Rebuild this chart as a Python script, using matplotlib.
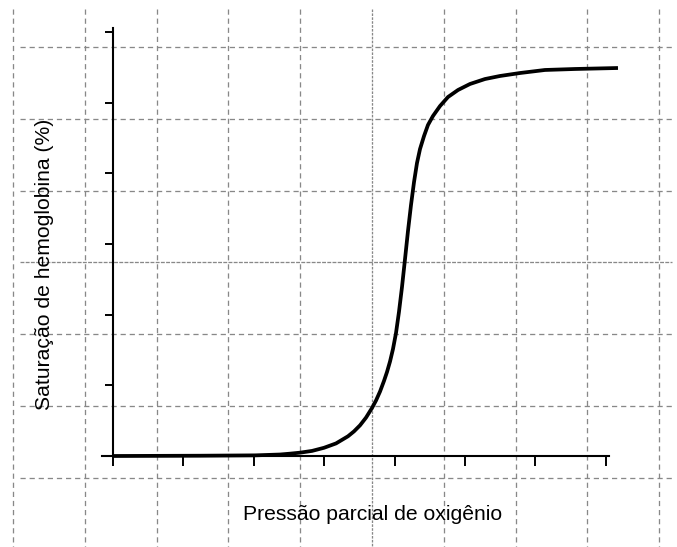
import matplotlib
matplotlib.use("Agg")
import matplotlib.pyplot as plt
import numpy as np

# Curve data (arbitrary units: x ticks 0..7, y ticks 0..6)
pressure = [0.0, 1.236, 2.017, 2.372, 2.514, 2.656, 2.827, 2.997, 3.168, 3.338,
            3.423, 3.509, 3.594, 3.679, 3.736, 3.793, 3.849, 3.892, 3.935, 3.977,
            4.020, 4.062, 4.105, 4.148, 4.190, 4.233, 4.276, 4.318, 4.361, 4.418,
            4.474, 4.545, 4.645, 4.759, 4.901, 5.071, 5.284, 5.497, 5.781, 6.136,
            6.563, 7.173]
saturation = [0.0, 0.004, 0.009, 0.021, 0.033, 0.047, 0.072, 0.116, 0.178, 0.279,
              0.348, 0.434, 0.543, 0.679, 0.785, 0.912, 1.061, 1.188, 1.337, 1.513,
              1.740, 2.037, 2.390, 2.786, 3.182, 3.550, 3.876, 4.144, 4.342, 4.526,
              4.682, 4.809, 4.950, 5.078, 5.177, 5.262, 5.332, 5.375, 5.417, 5.460,
              5.474, 5.488]
x_ticks = [0, 1, 2, 3, 4, 5, 6, 7]
y_ticks = [0, 1, 2, 3, 4, 5, 6]
x_label = "Pressão parcial de oxigênio"
y_label = "Saturação de hemoglobina (%)"

W, H = 677, 547
DPI = 100
PX = 72.0 / DPI  # points per pixel

plt.rcParams['font.family'] = ['Liberation Sans', 'DejaVu Sans']

fig = plt.figure(figsize=(W / DPI, H / DPI), dpi=DPI)
fig.patch.set_facecolor('white')

# Background grid (pixel coordinates), independent of data axes
bg = fig.add_axes([0, 0, 1, 1])
bg.set_xlim(0, W)
bg.set_ylim(H, 0)
bg.axis('off')
gstep = 71.8
vx = [13 + gstep * i for i in range(10)]
hy = [47 + gstep * i for i in range(7)]
for i, x in enumerate(vx):
    dense = (i == 5)
    bg.plot([x, x], [9, H], color='#888888', lw=1.0 * PX * 1.3,
            dashes=(2, 1) if dense else (4, 3), solid_capstyle='butt')
for i, y in enumerate(hy):
    dense = (i == 3)
    bg.plot([20, 672], [y, y], color='#888888', lw=1.0 * PX * 1.3,
            dashes=(3, 1) if dense else (4, 3), solid_capstyle='butt')

# Data axes
ax = fig.add_axes([0, 0, 1, 1])
ax.patch.set_alpha(0)
x0px, xs = 113, 70.4
y0px, ys = 456, 70.7
ax.set_xlim((0 - x0px) / xs, (W - x0px) / xs)
ax.set_ylim((y0px - H) / ys, (y0px - 0) / ys)

ax.plot(pressure, saturation, color='black', lw=2.7, solid_capstyle='butt',
        solid_joinstyle='round', zorder=5)

for s in ['top', 'right']:
    ax.spines[s].set_visible(False)
ax.spines['left'].set_position(('data', 0))
ax.spines['bottom'].set_position(('data', 0))
ax.spines['left'].set_bounds(0, (y0px - 28) / ys)
ax.spines['bottom'].set_bounds((102 - x0px) / xs, (609 - x0px) / xs)
for s in ['left', 'bottom']:
    ax.spines[s].set_linewidth(1.5)
ax.set_xticks(x_ticks)
ax.set_yticks(y_ticks)
ax.set_xticklabels([])
ax.set_yticklabels([])
ax.tick_params(axis='x', direction='out', length=10 * PX, width=1.4)
ax.tick_params(axis='y', direction='out', length=8 * PX, width=1.4)

fig.text(372.5 / W, 1 - 515 / H, x_label, ha='center', va='center', fontsize=15.2)
fig.text(45 / W, 1 - 264 / H, y_label, ha='center', va='center', rotation=90, fontsize=15.2)

fig.savefig('out.png', dpi=DPI, facecolor='white')
